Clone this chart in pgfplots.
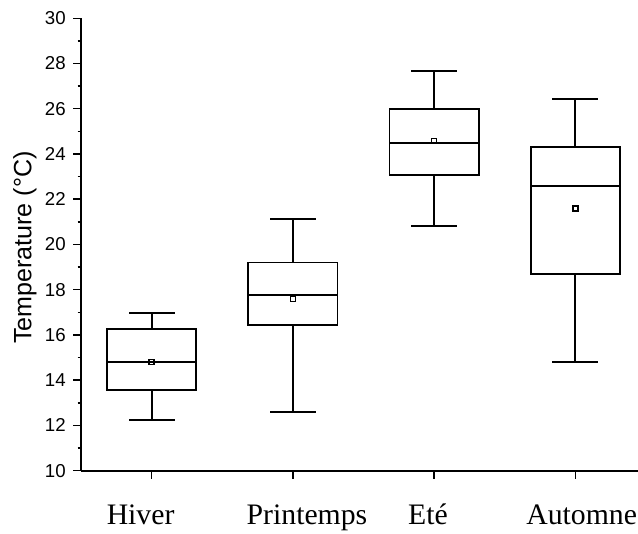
\documentclass[border=0pt]{standalone}
\usepackage{pgfplots}
\pgfplotsset{compat=1.18}
\usepackage{fontspec}
\setmainfont{Liberation Serif}
\newfontfamily\arialfont{Liberation Sans}
\newfontfamily\timesfont{Liberation Serif}
\begin{document}
\begin{tikzpicture}
\useasboundingbox (-60.8pt,-47.5pt) rectangle (417.7pt,353pt);
\begin{axis}[
  at={(0,0)}, anchor=south west,
  scale only axis,
  width=423.6pt, height=339.3pt,
  xmin=0.5, xmax=4.5, ymin=10, ymax=30,
  axis x line*=bottom, axis y line*=left,
  axis line style={line width=1.5pt},
  every tick/.style={black, line width=1.1pt},
  tick align=outside,
  major tick length=6pt, minor tick length=2.5pt,
  xtick={1,2,3,4},
  xticklabels={{\kern-8.3pt Hiver\kern8.3pt},{\kern10.6pt Printemps\kern-10.6pt},{\kern-4.6pt Et\'e\kern4.6pt},{\kern4.8pt Automne\kern-4.8pt}},
  xticklabel style={font=\timesfont\fontsize{22.3}{24}\selectfont, anchor=base, yshift=-34.5pt},
  ytick={10,12,...,30},
  minor y tick num=1,
  yticklabel style={font=\arialfont\fontsize{14}{16}\selectfont, xshift=-2pt},
  /pgf/number format/assume math mode=true,
  ylabel={Temperature (\textdegree C)},
  ylabel style={font=\arialfont\fontsize{18.8}{20}\selectfont, at={(axis description cs:-0.088,0.493)}, anchor=base, rotate=0},
  clip=false,
  unbounded coords=jump,
  every axis plot/.append style={line join=miter, line cap=rect},
]
% Hiver: lw=12.23 lq=13.57 med=14.82 uq=16.25 uw=16.96
\addplot[black, line width=1.35pt, mark=none] coordinates {
 (0.684,13.57) (1.316,13.57) (1.316,16.25) (0.684,16.25) (0.684,13.57) (nan,nan)
 (0.684,14.82) (1.316,14.82) (nan,nan)
 (1,16.25) (1,16.96) (nan,nan) (0.8445,16.96) (1.1555,16.96) (nan,nan)
 (1,13.57) (1,12.23) (nan,nan) (0.8445,12.23) (1.1555,12.23)};
% Printemps: lw=12.58 lq=16.43 med=17.78 uq=19.20 uw=21.14
\addplot[black, line width=1.35pt, mark=none] coordinates {
 (1.684,16.43) (2.316,16.43) (2.316,19.20) (1.684,19.20) (1.684,16.43) (nan,nan)
 (1.684,17.78) (2.316,17.78) (nan,nan)
 (2,19.20) (2,21.14) (nan,nan) (1.8445,21.14) (2.1555,21.14) (nan,nan)
 (2,16.43) (2,12.58) (nan,nan) (1.8445,12.58) (2.1555,12.58)};
% Ete: lw=20.80 lq=23.07 med=24.47 uq=25.99 uw=27.68
\addplot[black, line width=1.35pt, mark=none] coordinates {
 (2.684,23.07) (3.316,23.07) (3.316,25.99) (2.684,25.99) (2.684,23.07) (nan,nan)
 (2.684,24.47) (3.316,24.47) (nan,nan)
 (3,25.99) (3,27.68) (nan,nan) (2.8445,27.68) (3.1555,27.68) (nan,nan)
 (3,23.07) (3,20.80) (nan,nan) (2.8445,20.80) (3.1555,20.80)};
% Automne: lw=14.82 lq=18.68 med=22.60 uq=24.30 uw=26.43
\addplot[black, line width=1.35pt, mark=none] coordinates {
 (3.684,18.68) (4.316,18.68) (4.316,24.30) (3.684,24.30) (3.684,18.68) (nan,nan)
 (3.684,22.60) (4.316,22.60) (nan,nan)
 (4,24.30) (4,26.43) (nan,nan) (3.8445,26.43) (4.1555,26.43) (nan,nan)
 (4,18.68) (4,14.82) (nan,nan) (3.8445,14.82) (4.1555,14.82)};
% means
\addplot[only marks, mark=square, mark size=1.9pt, mark options={black, line width=1.2pt}] coordinates {(1,14.80) (2,17.59) (3,24.58) (4,21.60)};
\end{axis}
\end{tikzpicture}
\end{document}
